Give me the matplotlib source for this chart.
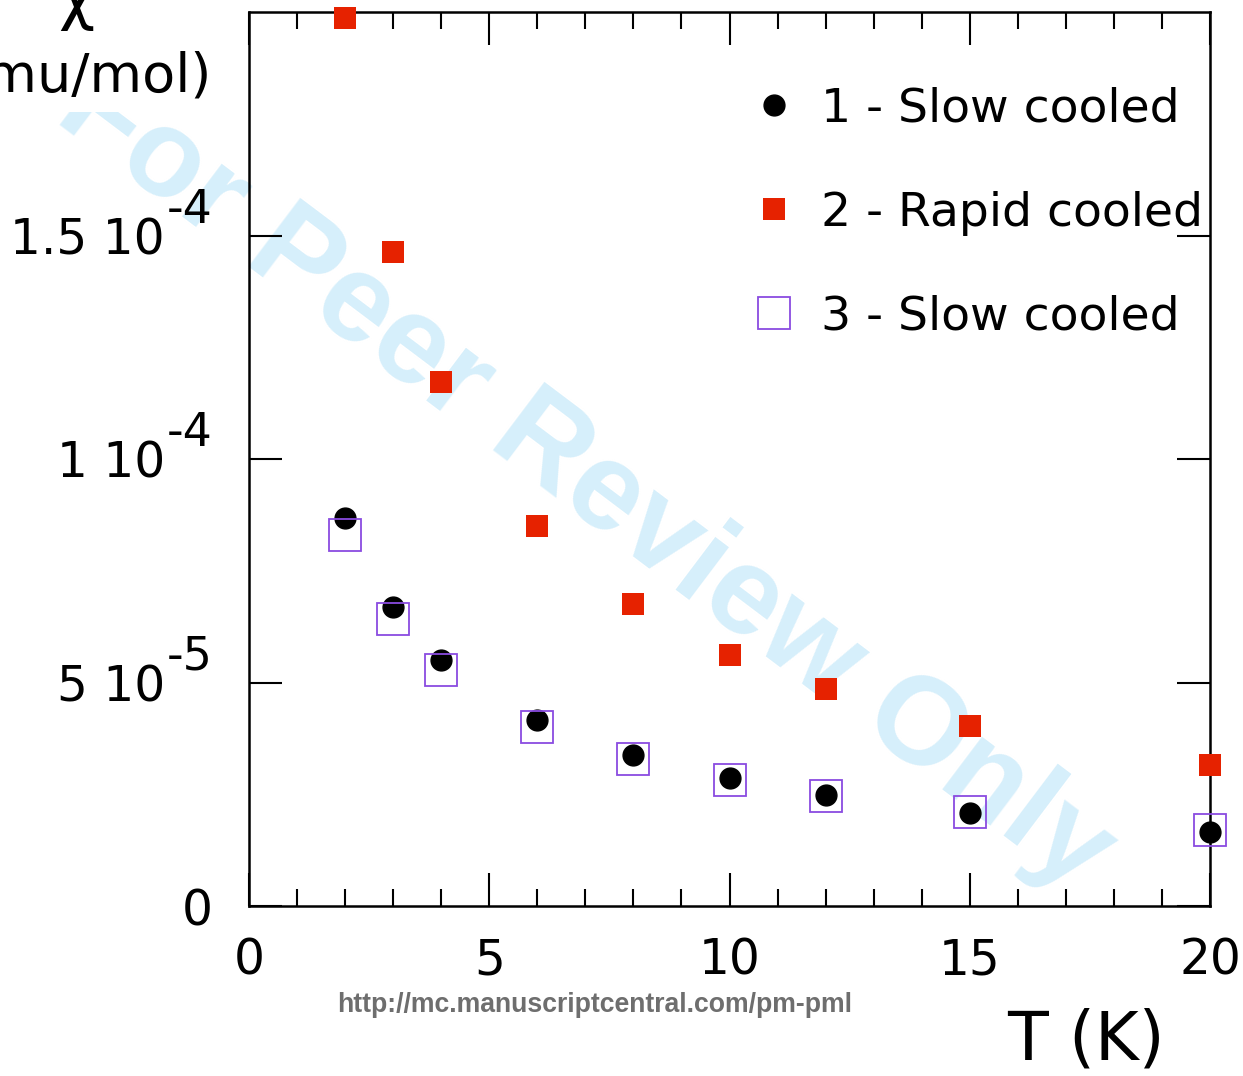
import matplotlib
matplotlib.use("Agg")
import matplotlib.pyplot as plt
from matplotlib.ticker import MultipleLocator
from matplotlib.patches import Rectangle

# susceptibility vs temperature
temp = [2, 3, 4, 6, 8, 10, 12, 15, 20]
chi_1 = [8.67e-5, 6.68e-5, 5.50e-5, 4.16e-5, 3.38e-5, 2.86e-5, 2.48e-5, 2.08e-5, 1.65e-5]
chi_2 = [1.987e-4, 1.462e-4, 1.173e-4, 8.49e-5, 6.75e-5, 5.61e-5, 4.85e-5, 4.02e-5, 3.15e-5]
chi_3 = [8.31e-5, 6.41e-5, 5.27e-5, 4.00e-5, 3.29e-5, 2.82e-5, 2.46e-5, 2.10e-5, 1.70e-5]
labels = ["1 - Slow cooled", "2 - Rapid cooled", "3 - Slow cooled"]

x_ticks = [0, 5, 10, 15, 20]
y_ticks = [0, 5e-5, 1e-4, 1.5e-4]
y_base = ["0", "5 10", "1 10", "1.5 10"]
y_exp = ["", "-5", "-4", "-4"]

plt.rcParams['font.family'] = ['DejaVu Sans']

W, H = 1243, 1076
fig = plt.figure(figsize=(W / 100, H / 100), dpi=100)
ax = fig.add_axes([249 / W, 1 - 906 / H, (1210 - 249) / W, (906 - 12) / H])
ax.set_xlim(0, 20)
ax.set_ylim(0, 2e-4)

ax.plot(temp, chi_1, 'o', color='black', markersize=15, label=labels[0], clip_on=False, zorder=3)
ax.plot(temp, chi_2, 's', color='#e62200', markersize=15.5, markeredgewidth=0,
        label=labels[1], clip_on=False, zorder=3)
ax.plot(temp, chi_3, 's', markerfacecolor='none', markeredgecolor='#8a4be0', markersize=23,
        markeredgewidth=1.3, label=labels[2], clip_on=False, zorder=4)

for s in ax.spines.values():
    s.set_linewidth(1.8)

ax.set_xticks(x_ticks)
ax.xaxis.set_minor_locator(MultipleLocator(1))
ax.tick_params(axis='x', which='major', direction='in', length=24, width=1.5,
               top=True, labelsize=35, pad=22)
ax.tick_params(axis='x', which='minor', direction='in', length=12, width=1.5, top=True)
ax.set_yticks(y_ticks)
ax.set_yticklabels([])
ax.tick_params(axis='y', which='major', direction='in', length=24, width=1.5, right=True)

# y tick labels written as "1.5 10" with a raised exponent
for v, b, e in zip(y_ticks, y_base, y_exp):
    off = -36 if e == "" else -84
    ax.annotate(b, xy=(0, v), xycoords=('axes fraction', 'data'), xytext=(off, -5),
                textcoords='offset pixels', ha='right', va='center', fontsize=35,
                annotation_clip=False)
    if e:
        ax.annotate(e, xy=(0, v), xycoords=('axes fraction', 'data'), xytext=(-82, 13),
                    textcoords='offset pixels', ha='left', va='baseline', fontsize=33,
                    annotation_clip=False)

ax.legend(loc='upper left', bbox_to_anchor=(727 / W, 1 - 63 / H), bbox_transform=fig.transFigure,
          frameon=False, fontsize=34, numpoints=1, handlelength=1.0, handletextpad=0.5,
          borderpad=0, labelspacing=1.25)

# watermark
ax.text(585 / W, 1 - 480 / H, "For Peer Review Only", transform=fig.transFigure,
        ha='center', va='center', rotation=-37, rotation_mode='anchor',
        fontsize=90, fontweight='bold', family='Liberation Sans', color='#d6effb',
        zorder=0.5, clip_on=False)
# white block behind the y label hides the start of the watermark
fig.patches.append(Rectangle((0, 1 - 112 / H), 240 / W, 112 / H, transform=fig.transFigure,
                             facecolor='white', edgecolor='none', zorder=1))

fig.text(76 / W, 1 - 18 / H, "χ", ha='center', va='baseline', fontsize=45, zorder=3)
fig.text(212 / W, 1 - 76 / H, "(emu/mol)", ha='right', va='center', fontsize=39, zorder=3)
fig.text(1165 / W, 1 - 1040 / H, "T (K)", ha='right', va='center', fontsize=48)
fig.text(595 / W, 1 - 1005 / H, "http://mc.manuscriptcentral.com/pm-pml", ha='center', va='center',
         fontsize=19.2, fontweight='bold', family='Liberation Sans', color='#6e6e6e')

fig.savefig("out.png", dpi=100)
